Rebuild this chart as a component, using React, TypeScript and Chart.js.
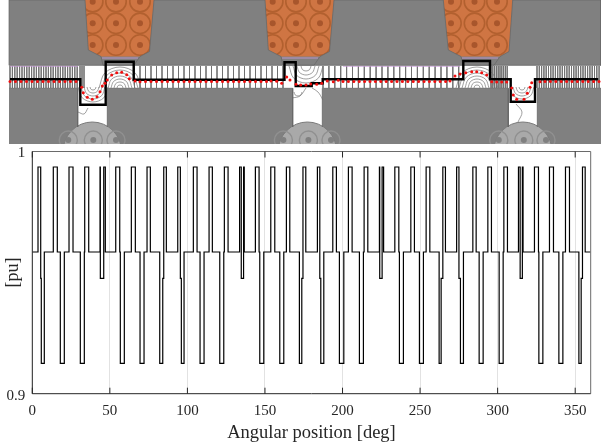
import React, { useEffect, useRef } from "react";
import { Chart, registerables } from "chart.js";

Chart.register(...registerables);

const H = 0.9936;
const M = 0.9585;
const L = 0.9125;
const S = 0.9476;

const edgeAngles = [
  0, 3.68, 5.42, 5.8, 7.74, 13.54, 16.12, 18.06, 20.64, 23.67, 26.25, 30.96, 33.54, 33.79, 36.37,
  43.66, 43.86, 46.05, 47.08, 53.79, 56.37, 56.75, 59.33, 63.85, 66.43, 69.46, 72.04, 73.97, 76.1,
  82.16, 84.1, 84.74, 86.42, 93.77, 95.45, 96.09, 97.83, 103.83, 106.22, 108.15, 110.73, 113.96, 116.08,
  120.86, 123.44, 123.82, 126.21, 133.63, 134.72, 136.21, 136.66, 143.82, 146.2, 146.65, 149.23, 153.75, 156.33,
  159.55, 162.13, 163.81, 166.0, 172.19, 173.74, 174.5, 176.32, 183.8, 185.35, 185.99, 187.93, 193.73, 196.05,
  197.99, 200.83, 203.79, 206.18, 210.89, 213.47, 213.92, 216.3, 223.79, 223.98, 225.53, 226.49, 233.72, 236.3,
  236.68, 239.26, 244.04, 246.36, 249.58, 252.16, 253.9, 256.29, 262.28, 263.58, 264.67, 266.35, 273.57, 275.06,
  276.02, 277.96, 284.02, 286.15, 288.08, 290.66, 293.69, 296.01, 300.98, 303.56, 304.01, 306.33, 313.43, 314.52,
  315.94, 316.39, 323.74, 326.33, 326.58, 329.16, 333.42, 336.0, 339.48, 342.06, 343.74, 346.32, 352.38, 353.86,
  354.7, 356.44, 360,
];
const edgeLevels = [
  M, H, S, L, M, H, M, L, M, H, M, L, M, H, M,
  H, S, H, M, H, M, L, M, H, M, L, M, H, M,
  L, S, H, M, H, S, L, M, H, M, L, M, H, M,
  L, M, H, M, H, S, H, M, H, M, L, M, H, M,
  L, M, H, M, L, S, H, M, H, S, L, M, H, M,
  L, M, H, M, L, M, H, M, H, S, H, M, H, M,
  L, M, H, M, L, M, H, M, L, S, H, M, H, S,
  L, M, H, M, L, M, H, M, L, M, H, M, H, S,
  H, M, H, M, L, M, H, M, L, M, H, M, L, S,
  H, M, M,
];
const xTickStep = 50;
const yTickLabels: Record<string, string> = { "0.9": "0.9", "1": "1" };

// Cross-section drawing above the plot, in picture units
const stator = [[9,0],[85,0],[88.3,50],[101,56.5],[103,65.3],[134,65.3],[140,56.5],[149.5,51.5],[154,0],[265,0],[268.3,50],[281,56.5],[283,65.3],[314,65.3],[320,56.5],[329.5,51.5],[334,0],[443.3,0],[448.3,50],[461,56.5],[463,65.3],[494,65.3],[500,56.5],[509,51.5],[512.7,0],[601,0],[601,65.3],[9,65.3],[9,0]];
const airGap = [[9,65.3],[601,65.3],[601,88.3],[9,88.3],[9,65.3]];
const slots = [[[77.7,88],[107.3,88],[107.3,130],[77.7,130],[77.7,88]],[[292.7,88],[322.3,88],[322.3,130],[292.7,130],[292.7,88]],[[508.3,88],[537.3,88],[537.3,130],[508.3,130],[508.3,88]]];
const statorLower = [[9,88.3],[77.7,88.3],[77.7,127],[null,null],[107.3,127],[107.3,88.3],[292.7,88.3],[292.7,127],[null,null],[322.3,127],[322.3,88.3],[508.3,88.3],[508.3,127],[null,null],[537.3,127],[537.3,88.3],[601,88.3]];
const coilOutlines = [[[85,0],[88.3,50],[101,56.5],[141,56.5],[149.5,51.5],[154,0]],[[265,0],[268.3,50],[281,56.5],[321,56.5],[329.5,51.5],[334,0]],[[443.3,0],[448.3,50],[461,56.5],[501,56.5],[509,51.5],[512.7,0]]];
const coilXs = [[92.7,116,140],[272.7,296,320],[451,474.5,497]];
const coilYs = [1.7,23.3,45];
const rotorCentres = [[92.3,151.2],[307.4,151.2],[522.8,151.2]];
const rotorBars = [[68.3,140],[93.3,140],[116,140],[283.4,140],[308.4,140],[331,140],[498.8,140],[523.8,140],[546,140]];
const hatchRuns = [[10,78,2.4],[80,84,2],[134.5,284,5.5],[323,463,5.9],[491,509,1.8],[537,601,2.3]];
const humps = [[120,88,3],[120,88,6],[120,88,9],[120,88,12],[120,88,15],[120,88,18],[120,88,21],[477,88,3],[477,88,6],[477,88,9],[477,88,12],[477,88,15],[477,88,18],[477,88,21],[306,66,-5],[306,66,-9],[306,66,-13],[306,66,-17],[93,87,-3],[93,87,-6],[93,87,-9],[93,87,-12],[93,87,-15],[522,87,-3],[522,87,-6],[522,87,-9],[522,87,-12],[298,92,-4]];
const sideCurves = [[[78,112],[84,114],[88,108]],[[292,98],[300,96],[306,88]],[[516,104],[522,112],[518,122]],[[323,100],[318,92],[312,88]]];
const flux = [[10,79.3],[80.3,79.3],[80.3,104.7],[105.7,104.7],[105.7,61.7],[133.7,61.7],[133.7,79.7],[284.5,79.7],[284.5,62.3],[295.7,62.3],[295.7,86],[311.7,86],[311.7,83.3],[322.7,83.3],[322.7,79.3],[463.3,79.3],[463.3,61],[490,61],[490,79.3],[510.7,79.3],[510.7,101.7],[535,101.7],[535,79.3],[598.3,79.3]];
const dotRuns = [[10,76,5.5,81.5],[145.5,268,5.5,81.5],[343,447,5.4,81.5],[545,600,5.4,81.5]];
const dotsSlot1 = [[81.7,87.3],[83.3,92.7],[87.3,97.3],[92.3,99.3],[97,96.7],[100,91.7],[102.3,86],[105,83.3],[107.3,80],[111.7,75],[116.7,72.7],[121.7,72.3],[126.7,74.7],[129.3,78.7],[135,81],[140,81.7]];
const dotsSlot2 = [[271,81],[276.7,81.3],[281.7,83.3],[286.7,77],[290,80],[296,84.3],[300.7,85],[306,85],[310.7,84],[316.7,84.3],[321.7,83.3],[327.3,81],[333.3,81.7],[338.3,80.3]];
const dotsSlot3 = [[450,81],[455,76],[460,74],[465.7,72.7],[471.7,71.7],[476.7,71.7],[481.7,72.7],[486.7,75],[491.7,81.7],[496.7,82],[501.7,82],[506.7,82],[511.7,88],[513.3,95],[516.7,99.3],[524,99.3],[527.3,93.3],[530,87.3],[531.7,82.7],[540,81.7]];
const purple = [[10,66.3],[78,66.3],[null,null],[343,66.3],[460,66.3],[null,null],[102,58],[138,58],[null,null],[282,58],[318,58],[null,null],[462,58],[498,58]];
const xy = (l: (number | null)[][]) => l.map(([x, y]) => ({ x: x === null ? NaN : x, y: y === null ? NaN : y }));

function polyDs(pts: number[][], fill: string, stroke = "transparent", w = 0) {
  return { type: "scatter", data: xy(pts), showLine: true, fill: "shape", backgroundColor: fill, borderColor: stroke, borderWidth: w, pointRadius: 0, tension: 0 };
}
function lineDs(pts: (number | null)[][], color: string, w: number, tension = 0) {
  return { type: "scatter", data: xy(pts), showLine: true, fill: false, borderColor: color, borderWidth: w, pointRadius: 0, tension, spanGaps: false };
}
function ptDs(pts: number[][], r: number, fill: string, stroke = "transparent", w = 0) {
  return { type: "scatter", data: xy(pts), showLine: false, pointRadius: r, pointBackgroundColor: fill, pointBorderColor: stroke, pointBorderWidth: w };
}

function buildDiagram() {
  const hatch: (number | null)[][] = [];
  hatchRuns.forEach(([a, b, s]) => {
    for (let x = a; x <= b; x += s) hatch.push([x, 66], [x, 88], [null, null]);
  });
  const arcs: (number | null)[][] = [];
  humps.forEach(([cx, cy, r]) => {
    const a = Math.abs(r);
    arcs.push([cx - a, cy], [cx - a * 0.72, cy - r * 0.72], [cx, cy - r], [cx + a * 0.72, cy - r * 0.72], [cx + a, cy], [null, null]);
  });
  sideCurves.forEach((c) => arcs.push(...c, [null, null]));
  const runs: number[][] = [];
  dotRuns.forEach(([a, b, s, y]) => {
    for (let x = a; x <= b; x += s) runs.push([x, y]);
  });
  const coilPts: number[][] = [];
  coilXs.forEach((xs) => xs.forEach((x) => coilYs.forEach((y) => coilPts.push([x, y]))));
  const painter = [
    polyDs([[9,0],[601,0],[601,144],[9,144],[9,0]], "#808080"),
    polyDs(airGap, "#ffffff"),
    ...slots.map((s) => polyDs(s, "#ffffff")),
    lineDs(hatch, "#6e6e6e", 0.8),
    lineDs(arcs, "#777777", 0.7, 0.35),
    lineDs(purple, "#c79ad8", 0.8),
    ...coilOutlines.map((c) => polyDs([...c, c[0]], "#cf7543")),
    ptDs(coilPts, 10.2, "transparent", "#b2602f", 1.6),
    ptDs(coilPts, 3, "#a8562c"),
    polyDs(stator, "#808080", "#666666", 0.7),
    ptDs(rotorCentres, 29.2, "#a9a9a9", "#7b7b7b", 1),
    ptDs(rotorBars, 9, "transparent", "#909090", 1.4),
    ptDs(rotorBars, 3, "#808080"),
    lineDs(statorLower, "#666666", 0.8),
    lineDs(flux, "#000000", 2.4),
    ptDs([...runs, ...dotsSlot1, ...dotsSlot2, ...dotsSlot3], 1.5, "#f01010"),
  ];
  return painter.reverse();
}

const frame = {
  id: "frame",
  afterDatasetsDraw(chart: any) {
    const { ctx, chartArea: a, scales } = chart;
    ctx.save();
    ctx.lineWidth = 1;
    ctx.strokeStyle = "#6a6a6a";
    ctx.beginPath();
    ctx.moveTo(a.left, a.top);
    ctx.lineTo(a.right, a.top);
    ctx.lineTo(a.right, a.bottom);
    ctx.stroke();
    ctx.strokeStyle = "#262626";
    ctx.beginPath();
    ctx.moveTo(a.left, a.top);
    ctx.lineTo(a.left, a.bottom);
    ctx.lineTo(a.right, a.bottom);
    scales.x.ticks.forEach((t: any) => {
      const p = scales.x.getPixelForValue(t.value);
      ctx.moveTo(p, a.bottom);
      ctx.lineTo(p, a.bottom - 6);
      ctx.moveTo(p, a.top);
      ctx.lineTo(p, a.top + 6);
    });
    ctx.stroke();
    ctx.restore();
  },
};

export default function App() {
  const topRef = useRef<HTMLCanvasElement>(null);
  const mainRef = useRef<HTMLCanvasElement>(null);
  useEffect(() => {
    const top = new Chart(topRef.current!, {
      type: "scatter",
      data: { datasets: buildDiagram() as any },
      options: {
        animation: false,
        responsive: false,
        devicePixelRatio: 1,
        layout: { padding: 0, autoPadding: false },
        plugins: { legend: { display: false }, tooltip: { enabled: false } },
        scales: {
          x: { type: "linear", display: false, min: 0, max: 601 },
          y: { type: "linear", display: false, min: 0, max: 144, reverse: true },
        },
      },
    });
    const serif = "'Liberation Serif', 'Times New Roman', serif";
    const main = new Chart(mainRef.current!, {
      type: "scatter",
      data: {
        datasets: [
          {
            label: "Air-gap flux [pu]",
            data: edgeAngles.map((x, i) => ({ x, y: edgeLevels[i] })),
            showLine: true,
            stepped: "before",
            borderColor: "#000000",
            borderWidth: 1.2,
            pointRadius: 0,
          } as any,
        ],
      },
      options: {
        animation: false,
        responsive: false,
        devicePixelRatio: 1,
        layout: { padding: { top: 151.5, right: 10.3, left: 0, bottom: 0 }, autoPadding: false },
        plugins: { legend: { display: false }, tooltip: { enabled: false } },
        scales: {
          x: {
            type: "linear",
            min: 0,
            max: 360,
            afterFit: (s: any) => { s.height = 52.3; },
            border: { display: false },
            grid: { color: "#e2e2e2", lineWidth: 1, drawTicks: false },
            ticks: { stepSize: xTickStep, includeBounds: false, maxRotation: 0, color: "#262626", padding: 8, font: { family: serif, size: 15 } },
            title: { display: true, text: "Angular position [deg]", color: "#262626", padding: { top: 0, bottom: 2 }, font: { family: serif, size: 18.5 } },
          },
          y: {
            type: "linear",
            min: 0.9,
            max: 1,
            afterFit: (s: any) => { s.width = 32.3; },
            border: { display: false },
            grid: { display: false, drawTicks: false },
            ticks: {
              stepSize: 0.1,
              color: "#262626",
              padding: 7,
              labelOffset: 2,
              font: { family: serif, size: 15 },
              callback: (v: any) => yTickLabels[String(Math.round(Number(v) * 10) / 10)] ?? "",
            },
            title: { display: true, text: "[pu]", color: "#262626", padding: { top: 2, bottom: 0 }, font: { family: serif, size: 18 } },
          },
        },
      },
      plugins: [frame],
    });
    return () => {
      top.destroy();
      main.destroy();
    };
  }, []);
  return (
    <div style={{ position: "absolute", left: 0, top: 0, width: 601, height: 446, background: "#fff" }}>
      <canvas ref={topRef} width={601} height={144} style={{ position: "absolute", left: 0, top: 0, display: "block" }} />
      <canvas ref={mainRef} width={601} height={446} style={{ position: "absolute", left: 0, top: 0, display: "block" }} />
    </div>
  );
}
